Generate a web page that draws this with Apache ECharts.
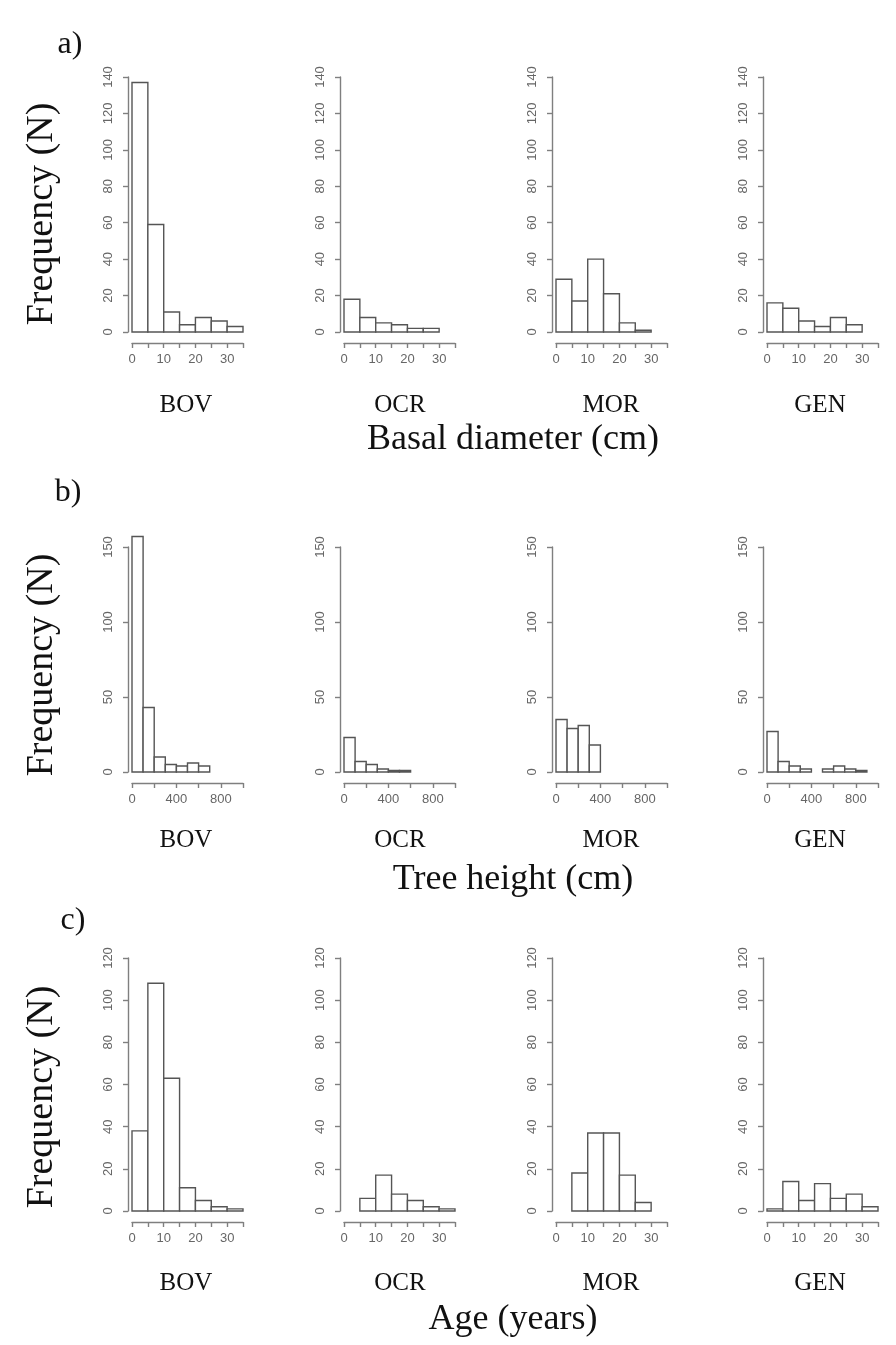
<!DOCTYPE html>
<html>
<head>
<meta charset="utf-8">
<script src="https://cdn.jsdelivr.net/npm/echarts@6/dist/echarts.min.js"></script>
<style>
html,body{margin:0;padding:0;background:#fff;}
#chart{width:896px;height:1345px;}
</style>
</head>
<body>
<div id="chart"></div>
<script>
// ---- data (counts per bin) ----
const sites = ['BOV', 'OCR', 'MOR', 'GEN'];

const diamBinWidth = 5;
const diamBOV = [137, 59, 11, 4, 8, 6, 3];
const diamOCR = [18, 8, 5, 4, 2, 2];
const diamMOR = [29, 17, 40, 21, 5, 1];
const diamGEN = [16, 13, 6, 3, 8, 4];

const heightBinWidth = 100;
const heightBOV = [157, 43, 10, 5, 4, 6, 4];
const heightOCR = [23, 7, 5, 2, 1, 1];
const heightMOR = [35, 29, 31, 18];
const heightGEN = [27, 7, 4, 2, 0, 2, 4, 2, 1];

const ageBinWidth = 5;
const ageBOV = [38, 108, 63, 11, 5, 2, 1];
const ageOCR = [0, 6, 17, 8, 5, 2, 1];
const ageMOR = [0, 18, 37, 37, 17, 4];
const ageGEN = [1, 14, 5, 13, 6, 8, 2];

// axis ticks
const diamXTicks = [0, 35, 5];   // min, max, interval
const diamXLabelStep = 10;
const diamYTicks = [0, 140, 20];
const heightXTicks = [0, 1000, 200];
const heightXLabelStep = 400;
const heightYTicks = [0, 150, 50];
const ageXTicks = [0, 35, 5];
const ageXLabelStep = 10;
const ageYTicks = [0, 120, 20];

const panelLabels = ['a)', 'b)', 'c)'];
const xTitles = ['Basal diameter (cm)', 'Tree height (cm)', 'Age (years)'];
const yTitle = 'Frequency (N)';

// ---- layout ----
const rows = [
  { data: [diamBOV, diamOCR, diamMOR, diamGEN], bw: diamBinWidth, xt: diamXTicks, xls: diamXLabelStep, yt: diamYTicks, top: 77, height: 255 },
  { data: [heightBOV, heightOCR, heightMOR, heightGEN], bw: heightBinWidth, xt: heightXTicks, xls: heightXLabelStep, yt: heightYTicks, top: 547, height: 225 },
  { data: [ageBOV, ageOCR, ageMOR, ageGEN], bw: ageBinWidth, xt: ageXTicks, xls: ageXLabelStep, yt: ageYTicks, top: 958, height: 253 }
];
const colLefts = [132, 344, 556, 767];
const colWidth = 111;
const siteCenters = [186, 400, 611, 820];
const siteY = [405, 840, 1283];
const xTitleY = [440, 880, 1320];
const panelLabelPos = [[70, 45], [68, 493], [73, 921]];
const yTitleY = [214, 665, 1097];

const FONT_SERIF = '"Liberation Serif", "Times New Roman", serif';
const FONT_SANS = '"Liberation Sans", Arial, sans-serif';
const AXIS_COLOR = '#7f7f7f';
const LABEL_COLOR = '#666666';
const BAR_STROKE = '#555555';

const grids = [], xAxes = [], yAxes = [], series = [], graphics = [];

function renderBar(params, api) {
  const x0 = api.value(0), x1 = api.value(1), c = api.value(2);
  if (!c) return null;
  const p0 = api.coord([x0, 0]);
  const p1 = api.coord([x1, c]);
  return {
    type: 'rect',
    shape: { x: p0[0], y: p1[1], width: p1[0] - p0[0], height: p0[1] - p1[1] },
    style: { fill: '#ffffff', stroke: BAR_STROKE, lineWidth: 1.4 }
  };
}

let idx = 0;
rows.forEach((row, r) => {
  row.data.forEach((counts, c) => {
    grids.push({ left: colLefts[c], top: row.top, width: colWidth, height: row.height, containLabel: false });
    const ls = row.xls;
    xAxes.push({
      type: 'value', gridIndex: idx, min: row.xt[0], max: row.xt[1], interval: row.xt[2],
      position: 'bottom', offset: 11,
      axisLine: { show: true, onZero: false, lineStyle: { color: AXIS_COLOR, width: 1.4 } },
      axisTick: { show: true, length: 5, lineStyle: { color: AXIS_COLOR, width: 1.4 } },
      axisLabel: { show: true, margin: 10, color: LABEL_COLOR, fontSize: 13, fontFamily: FONT_SANS,
        formatter: v => (v % ls === 0 ? String(v) : '') },
      splitLine: { show: false }
    });
    yAxes.push({
      type: 'value', gridIndex: idx, min: row.yt[0], max: row.yt[1], interval: row.yt[2],
      position: 'left', offset: 4,
      axisLine: { show: true, onZero: false, lineStyle: { color: AXIS_COLOR, width: 1.4 } },
      axisTick: { show: true, length: 5, lineStyle: { color: AXIS_COLOR, width: 1.4 } },
      axisLabel: { show: true, rotate: 90, margin: 13, color: LABEL_COLOR, fontSize: 13, fontFamily: FONT_SANS },
      splitLine: { show: false }
    });
    const bins = counts.map((n, i) => [i * row.bw, (i + 1) * row.bw, n]);
    series.push({
      type: 'custom', xAxisIndex: idx, yAxisIndex: idx, clip: false,
      renderItem: renderBar, encode: { x: [0, 1], y: 2 }, data: bins, silent: true
    });
    graphics.push({
      type: 'text', x: siteCenters[c], y: siteY[r],
      style: { text: sites[c], fontSize: 25, fontFamily: FONT_SERIF, fill: '#111', align: 'center', verticalAlign: 'middle' }
    });
    idx++;
  });
  graphics.push({
    type: 'text', x: 513, y: xTitleY[r],
    style: { text: xTitles[r], fontSize: 36, fontFamily: FONT_SERIF, fill: '#111', align: 'center', verticalAlign: 'middle' }
  });
  graphics.push({
    type: 'text', x: panelLabelPos[r][0], y: panelLabelPos[r][1],
    style: { text: panelLabels[r], fontSize: 32, fontFamily: FONT_SERIF, fill: '#111', align: 'center', verticalAlign: 'middle' }
  });
  graphics.push({
    type: 'text', x: 42, y: yTitleY[r], rotation: Math.PI / 2,
    style: { text: yTitle, fontSize: 38, fontFamily: FONT_SERIF, fill: '#111', align: 'center', verticalAlign: 'middle' }
  });
});

const chart = echarts.init(document.getElementById('chart'), null, { renderer: 'canvas' });
chart.setOption({
  animation: false,
  backgroundColor: '#ffffff',
  grid: grids,
  xAxis: xAxes,
  yAxis: yAxes,
  series: series,
  graphic: graphics
});
</script>
</body>
</html>
